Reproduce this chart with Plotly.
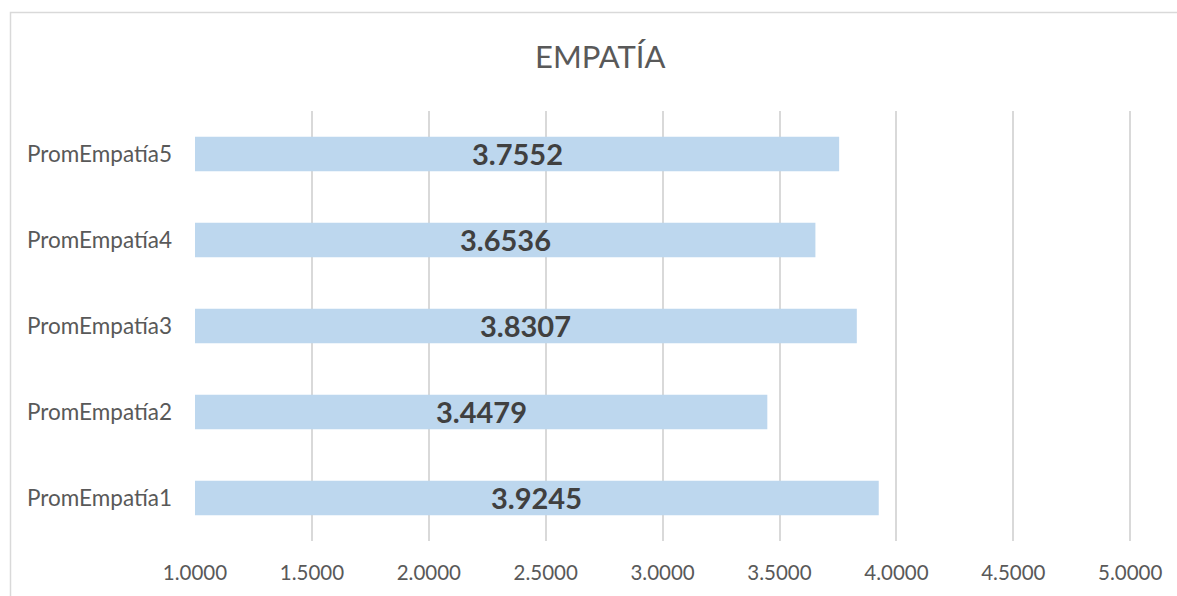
import plotly.graph_objects as go

# Average empathy scores per item
categories = ["PromEmpatía1", "PromEmpatía2", "PromEmpatía3", "PromEmpatía4", "PromEmpatía5"]
values = [3.9245, 3.4479, 3.8307, 3.6536, 3.7552]
tick_values = [1.0, 1.5, 2.0, 2.5, 3.0, 3.5, 4.0, 4.5, 5.0]
tick_labels = ["1.0000", "1.5000", "2.0000", "2.5000", "3.0000", "3.5000", "4.0000", "4.5000", "5.0000"]

FONT = "Lato, 'Open Sans', sans-serif"
W, H = 1177, 596
L, R, T, B = 195, 44, 111, 55
x_min, x_max = 1.0, 5.012

fig = go.Figure()
fig.add_trace(go.Bar(
    y=categories,
    x=values,
    orientation="h",
    width=0.4,
    marker=dict(color="#bdd7ee", line=dict(width=0)),
    hoverinfo="x+y",
))

# Value labels centred on the visible part of each bar
for cat, v in zip(categories, values):
    fig.add_annotation(
        x=(x_min + v) / 2, y=cat, xref="x", yref="y",
        text=f"<b>{v:.4f}</b>", showarrow=False,
        font=dict(family=FONT, size=29, color="#404040"),
        yshift=1,
    )

# Chart frame
pw, ph = W - L - R, H - T - B
fig.add_shape(
    type="rect", xref="paper", yref="paper",
    x0=(10.5 - L) / pw, x1=(W + 5 - L) / pw,
    y0=-(H + 5 - (H - B)) / ph, y1=((H - B) - 12.5) / ph,
    line=dict(color="#d9d9d9", width=1.5), fillcolor="rgba(0,0,0,0)", layer="below",
)

fig.update_layout(
    width=W, height=H,
    margin=dict(l=L, r=R, t=T, b=B),
    paper_bgcolor="white", plot_bgcolor="white",
    showlegend=False,
    title=dict(text="EMPATÍA", x=0.51, xanchor="center", y=1 - 57 / H, yanchor="middle",
               font=dict(family=FONT, size=31, color="#595959")),
    xaxis=dict(
        range=[x_min, x_max], tickvals=tick_values, ticktext=tick_labels,
        showgrid=True, gridcolor="#d9d9d9", gridwidth=1.5,
        zeroline=False, showline=False, ticks="",
        tickfont=dict(family=FONT, size=20.5, color="#595959"),
        ticklabelstandoff=17,
    ),
    yaxis=dict(
        type="category", categoryorder="array", categoryarray=categories,
        range=[-0.5, 4.5], showgrid=False, zeroline=False, showline=False, ticks="",
        tickfont=dict(family=FONT, size=22.5, color="#595959"),
        ticklabelstandoff=22,
    ),
    bargap=0.6,
)

fig.write_html("out.html")
